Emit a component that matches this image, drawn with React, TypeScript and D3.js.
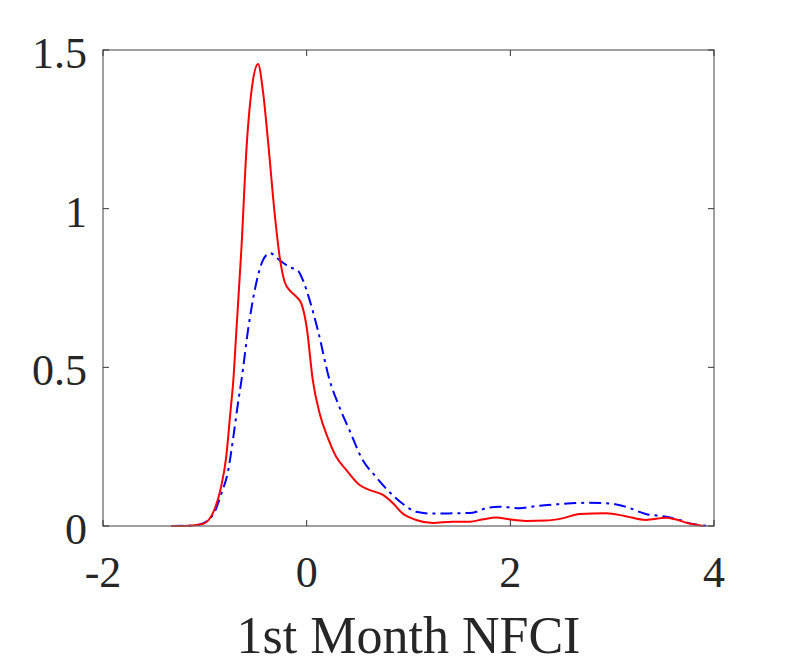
import React from "react";
import * as d3 from "d3";

const xTicks = [-2, 0, 2, 4];
const yTicks = [0, 0.5, 1, 1.5];
const yTickLabels = ["0", "0.5", "1", "1.5"];
const xLabel = "1st Month NFCI";

const redX = [-1.33, -1.15, -1.02, -0.9, -0.84, -0.79, -0.75, -0.72, -0.69, -0.64, -0.59, -0.53, -0.477, -0.43, -0.38, -0.314, -0.265, -0.216, -0.15, -0.1, -0.052, 0.0, 0.06, 0.127, 0.21, 0.29, 0.39, 0.52, 0.62, 0.75, 0.85, 0.94, 1.075, 1.24, 1.43, 1.6, 1.73, 1.86, 1.99, 2.15, 2.35, 2.51, 2.68, 2.94, 3.13, 3.33, 3.53, 3.62, 3.75, 3.9];
const redY = [0, 0.001, 0.006, 0.056, 0.124, 0.218, 0.355, 0.46, 0.617, 0.879, 1.194, 1.399, 1.456, 1.372, 1.215, 0.984, 0.848, 0.769, 0.737, 0.722, 0.701, 0.627, 0.46, 0.355, 0.276, 0.218, 0.176, 0.129, 0.113, 0.098, 0.071, 0.04, 0.019, 0.0095, 0.0135, 0.0135, 0.021, 0.027, 0.021, 0.016, 0.017, 0.024, 0.038, 0.04, 0.031, 0.019, 0.026, 0.021, 0.0085, 0];

const blueX = [-1.33, -1.15, -1.05, -0.92, -0.84, -0.77, -0.72, -0.67, -0.64, -0.576, -0.51, -0.43, -0.36, -0.265, -0.167, -0.085, -0.036, 0.03, 0.11, 0.225, 0.32, 0.42, 0.55, 0.68, 0.81, 0.94, 1.075, 1.24, 1.43, 1.63, 1.76, 1.89, 2.09, 2.25, 2.48, 2.74, 2.97, 3.13, 3.33, 3.53, 3.66, 3.79, 3.95];
const blueY = [0, 0.001, 0.005, 0.035, 0.1, 0.176, 0.281, 0.397, 0.46, 0.617, 0.743, 0.837, 0.86, 0.837, 0.816, 0.804, 0.774, 0.711, 0.617, 0.46, 0.376, 0.302, 0.208, 0.155, 0.108, 0.071, 0.045, 0.039, 0.04, 0.042, 0.056, 0.061, 0.056, 0.063, 0.069, 0.073, 0.071, 0.061, 0.038, 0.029, 0.019, 0.006, 0];

export default function App() {
  const W = 789, H = 664;
  const left = 103, right = 714, top = 50, bottom = 526;
  const x = d3.scaleLinear().domain([-2, 4]).range([left, right]);
  const y = d3.scaleLinear().domain([0, 1.5]).range([bottom, top]);
  const line = d3
    .line<[number, number]>()
    .x((d) => x(d[0]))
    .y((d) => y(d[1]))
    .curve(d3.curveMonotoneX);
  const redPts = redX.map((v, i) => [v, redY[i]] as [number, number]);
  const bluePts = blueX.map((v, i) => [v, blueY[i]] as [number, number]);
  const font = "'Liberation Serif', 'Times New Roman', serif";
  const tl = 6;
  const frame = "#6e6e6e";
  return (
    <svg width={W} height={H} style={{ position: "absolute", left: 0, top: 0, background: "#fff" }}>
      <rect x={0} y={0} width={W} height={H} fill="#fff" />
      <path d={line(bluePts) || ""} fill="none" stroke="#0000ff" strokeWidth={2} strokeDasharray="12,5,3,5" />
      <path d={line(redPts) || ""} fill="none" stroke="#ff0000" strokeWidth={2} />
      <rect x={left} y={top} width={right - left} height={bottom - top} fill="none" stroke={frame} strokeWidth={1.3} />
      {xTicks.map((t) => (
        <g key={"x" + t}>
          <line x1={x(t)} x2={x(t)} y1={bottom} y2={bottom - tl} stroke="#333" strokeWidth={1} />
          <line x1={x(t)} x2={x(t)} y1={top} y2={top + tl} stroke="#333" strokeWidth={1} />
          <text x={x(t)} y={587} textAnchor="middle" fontFamily={font} fontSize={44} fill="#262626">
            {t}
          </text>
        </g>
      ))}
      {yTicks.map((t, i) => (
        <g key={"y" + t}>
          <line x1={left} x2={left + tl} y1={y(t)} y2={y(t)} stroke="#333" strokeWidth={1} />
          <line x1={right} x2={right - tl} y1={y(t)} y2={y(t)} stroke="#333" strokeWidth={1} />
          <text x={87} y={y(t) + 18} textAnchor="end" fontFamily={font} fontSize={44} fill="#262626">
            {yTickLabels[i]}
          </text>
        </g>
      ))}
      <text x={(left + right) / 2 + 0} y={653} textAnchor="middle" fontFamily={font} fontSize={52} fill="#262626">
        {xLabel}
      </text>
    </svg>
  );
}
